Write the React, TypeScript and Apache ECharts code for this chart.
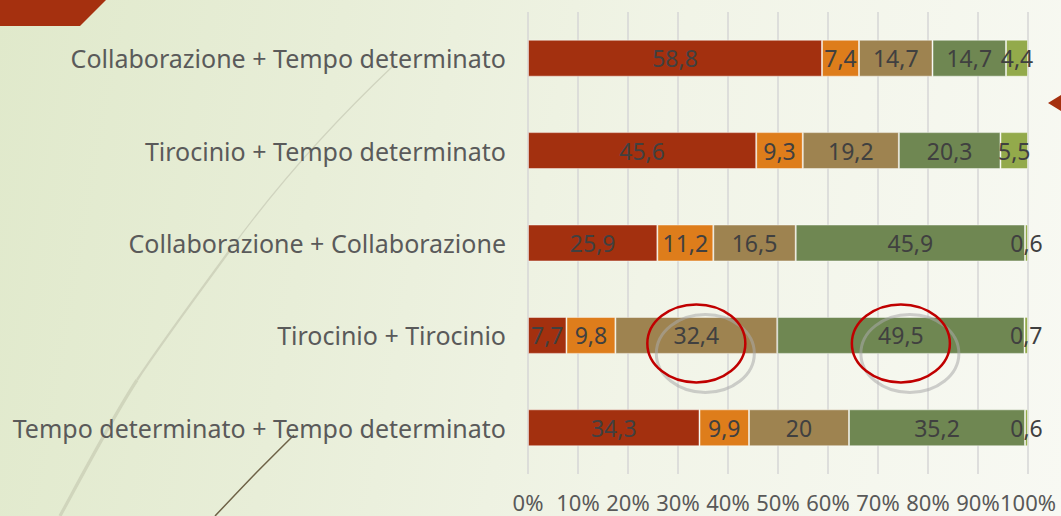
import React, { useEffect, useRef } from "react";
import * as echarts from "echarts";

const categories = [
  "Collaborazione + Tempo determinato",
  "Tirocinio + Tempo determinato",
  "Collaborazione + Collaborazione",
  "Tirocinio + Tirocinio",
  "Tempo determinato + Tempo determinato",
];
const seriesNames = ["Serie 1", "Serie 2", "Serie 3", "Serie 4", "Serie 5"];
const serie1 = [58.8, 45.6, 25.9, 7.7, 34.3];
const serie2 = [7.4, 9.3, 11.2, 9.8, 9.9];
const serie3 = [14.7, 19.2, 16.5, 32.4, 20];
const serie4 = [14.7, 20.3, 45.9, 49.5, 35.2];
const serie5 = [4.4, 5.5, 0.6, 0.7, 0.6];
const seriesColors = ["#A3300F", "#DE7D1B", "#9E8350", "#6F8752", "#93AA4B"];
// highlighted cells: [categoryIndex, seriesIndex]
const highlighted = [
  [3, 2],
  [3, 3],
];

const FONT = "'Noto Sans', sans-serif";

export default function App() {
  const ref = useRef<HTMLDivElement>(null);
  useEffect(() => {
    if (!ref.current) return;
    const chart = echarts.init(ref.current, undefined, { renderer: "svg" });
    const all = [serie1, serie2, serie3, serie4, serie5];
    const totals = categories.map((_, i) => all.reduce((s, arr) => s + arr[i], 0));
    const fmt = (v: number) => String(v).replace(".", ",");

    const series = all.map((arr, si) => ({
      name: seriesNames[si],
      type: "bar",
      stack: "total",
      barWidth: "40%",
      data: arr.map((v, i) => ({ value: (v / totals[i]) * 100, raw: v })),
      itemStyle: {
        color: seriesColors[si],
        borderColor: "rgba(255,255,255,0.45)",
        borderWidth: 1,
      },
      label: {
        show: true,
        position: "inside",
        color: "#404040",
        fontSize: 23,
        fontFamily: FONT,
        formatter: (p: any) => fmt(p.data.raw),
      },
    }));

    chart.setOption({
      animation: false,
      grid: { left: 528, right: 33, top: 12, bottom: 42, containLabel: false },
      xAxis: {
        type: "value",
        min: 0,
        max: 100,
        interval: 10,
        axisLine: { show: false },
        axisTick: { show: false },
        splitLine: { show: true, lineStyle: { color: "#d6d6d6", width: 1.5 } },
        axisLabel: {
          formatter: "{value}%",
          color: "#595959",
          fontSize: 22,
          fontFamily: FONT,
          margin: 17,
        },
      },
      yAxis: {
        type: "category",
        data: categories,
        inverse: true,
        axisLine: { show: false },
        axisTick: { show: false },
        axisLabel: {
          color: "#5a5a5a",
          fontSize: 25,
          fontFamily: FONT,
          margin: 22,
        },
      },
      series,
    });

    const ellipses: any[] = [];
    highlighted.forEach(([ci, si]) => {
      const before = all.slice(0, si).reduce((s, arr) => s + arr[ci], 0);
      const mid = ((before + all[si][ci] / 2) / totals[ci]) * 100;
      const p = chart.convertToPixel({ gridIndex: 0 }, [mid, ci]) as number[];
      ellipses.push({
        type: "ellipse",
        z: 100,
        shape: { cx: p[0] + 9, cy: p[1] + 18, rx: 49, ry: 39 },
        style: { fill: "none", stroke: "rgba(170,170,170,0.55)", lineWidth: 3 },
        silent: true,
      });
      ellipses.push({
        type: "ellipse",
        z: 101,
        shape: { cx: p[0], cy: p[1] + 8, rx: 49, ry: 39 },
        style: { fill: "none", stroke: "#C00000", lineWidth: 2.5 },
        silent: true,
      });
    });

    chart.setOption({
      graphic: [
        {
          type: "polygon",
          z: 50,
          shape: { points: [[0, 0], [106, 0], [80, 26], [0, 26]] },
          style: { fill: "#A5300F" },
          silent: true,
        },
        {
          type: "polygon",
          z: 50,
          shape: { points: [[1048, 103], [1061, 95], [1061, 111]] },
          style: { fill: "#A5300F" },
          silent: true,
        },
        {
          type: "bezierCurve",
          z: -5,
          shape: { x1: 393, y1: 66, cpx1: 320, cpy1: 135, cpx2: 270, cpy2: 195, x2: 230, y2: 250 },
          style: { stroke: "#d0d4bf", lineWidth: 1.3, fill: "none" },
          silent: true,
        },
        {
          type: "bezierCurve",
          z: -5,
          shape: { x1: 230, y1: 250, cpx1: 190, cpy1: 305, cpx2: 160, cpy2: 345, x2: 137, y2: 380 },
          style: { stroke: "#d0d4bd", lineWidth: 2.3, fill: "none" },
          silent: true,
        },
        {
          type: "bezierCurve",
          z: -5,
          shape: { x1: 137, y1: 380, cpx1: 114, cpy1: 415, cpx2: 85, cpy2: 470, x2: 60, y2: 516 },
          style: { stroke: "#d0d5bc", lineWidth: 3.2, fill: "none" },
          silent: true,
        },
        {
          type: "polyline",
          z: -5,
          shape: { points: [[294, 435], [255, 474], [215, 516]], smooth: 0.2 },
          style: { stroke: "#6e6247", lineWidth: 1.5, fill: "none" },
          silent: true,
        },
        ...ellipses,
      ],
    });

    return () => chart.dispose();
  }, []);

  return (
    <div
      ref={ref}
      style={{
        position: "fixed",
        left: 0,
        top: 0,
        width: 1061,
        height: 516,
        background:
          "linear-gradient(100deg, #e0e9cb 0%, #e8eed8 30%, #f1f4e7 60%, #f8f9f3 100%)",
      }}
    />
  );
}
